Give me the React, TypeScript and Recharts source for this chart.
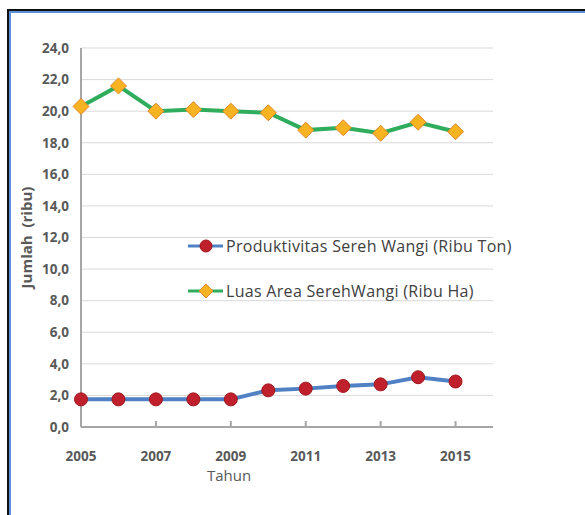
import React from 'react';
import { LineChart, Line, XAxis, YAxis, CartesianGrid, Label } from 'recharts';

const years = [2005, 2006, 2007, 2008, 2009, 2010, 2011, 2012, 2013, 2014, 2015];
const produktivitas = [1.75, 1.75, 1.75, 1.75, 1.75, 2.32, 2.43, 2.6, 2.7, 3.15, 2.88];
const luasArea = [20.3, 21.6, 20.0, 20.1, 20.0, 19.9, 18.8, 18.95, 18.6, 19.3, 18.7];
const xTicks = [2005, 2007, 2009, 2011, 2013, 2015];
const yTicks = [0, 2, 4, 6, 8, 10, 12, 14, 16, 18, 20, 22, 24];
const seriesNames = ['Produktivitas Sereh Wangi (Ribu Ton)', 'Luas Area SerehWangi (Ribu Ha)'];

const data = years.map((y, i) => ({ year: y, prod: produktivitas[i], luas: luasArea[i] }));

const FONT = '"Open Sans", "Liberation Sans", sans-serif';
const BLUE = '#4f81c4';
const GREEN = '#2fad5c';
const RED = '#c0202b';
const ORANGE = '#f8b323';

const Diamond = (props: any) => {
  const { cx, cy, index } = props;
  if (cx == null || cy == null) return <g key={'d' + index} />;
  const r = 8;
  return (
    <path
      key={'d' + index}
      d={`M${cx},${cy - r}L${cx + r},${cy}L${cx},${cy + r}L${cx - r},${cy}Z`}
      fill={ORANGE}
      stroke="#e2862a"
      strokeWidth={1}
    />
  );
};

const LegendBlock = () => (
  <div style={{ position: 'absolute', left: 186, top: 234, fontFamily: FONT, fontSize: 16, letterSpacing: 0.3, color: '#404040', whiteSpace: 'nowrap' }}>
    <div style={{ display: 'flex', alignItems: 'center', height: 24 }}>
      <svg width={40} height={20} style={{ display: 'block' }}>
        <line x1={2} y1={10} x2={37} y2={10} stroke={BLUE} strokeWidth={3} />
        <circle cx={20} cy={10} r={6} fill={RED} stroke="#a01820" strokeWidth={1} />
      </svg>
      <span>{seriesNames[0]}</span>
    </div>
    <div style={{ display: 'flex', alignItems: 'center', height: 24, marginTop: 21 }}>
      <svg width={40} height={20} style={{ display: 'block' }}>
        <line x1={2} y1={10} x2={37} y2={10} stroke={GREEN} strokeWidth={3} />
        <path d="M20,3L27,10L20,17L13,10Z" fill={ORANGE} stroke="#e2862a" strokeWidth={1} />
      </svg>
      <span>{seriesNames[1]}</span>
    </div>
  </div>
);

export default function App() {
  return (
    <div style={{ position: 'absolute', left: 0, top: 0, width: 585, height: 515, background: '#fff', overflow: 'hidden' }}>
      <div style={{ position: 'absolute', left: 7, top: 9, width: 700, height: 700, borderLeft: '2px solid #111', borderTop: '2px solid #111' }}>
        <div style={{ position: 'absolute', left: 0, top: 0, width: 700, height: 700, borderLeft: '2px solid #5b8fd8', borderTop: '2px solid #5b8fd8' }} />
      </div>
      <div style={{ position: 'absolute', left: 0, top: 0 }}>
        <LineChart width={585} height={515} data={data} margin={{ top: 48, right: 92, bottom: 58, left: 0 }}>
          <CartesianGrid horizontal vertical={false} stroke="#d9d9d9" strokeWidth={1} />
          <XAxis
            dataKey="year"
            type="number"
            domain={[2005, 2016]}
            ticks={xTicks}
            height={30}
            stroke="#a6a6a6"
            strokeWidth={2}
            tickSize={-6}
            tickMargin={30}
            tick={{ fill: '#595959', fontSize: 13.5, fontWeight: 700, fontFamily: FONT }}
          >
            <Label value="Tahun" position="insideBottom" offset={-24} dx={-58} style={{ fill: '#595959', fontSize: 15, fontFamily: FONT }} />
          </XAxis>
          <YAxis
            domain={[0, 24]}
            ticks={yTicks}
            width={81}
            stroke="#a6a6a6"
            strokeWidth={2}
            tickLine={false}
            tickSize={0}
            tickMargin={12}
            interval={0}
            tickFormatter={(v: number) => v.toFixed(1).replace('.', ',')}
            tick={{ fill: '#595959', fontSize: 13.5, fontWeight: 700, fontFamily: FONT }}
          >
            <Label value={'Jumlah\u00a0\u00a0(ribu)'} angle={-90} position="insideLeft" offset={27} style={{ fill: '#595959', fontSize: 15, fontWeight: 700, fontFamily: FONT, textAnchor: 'middle' }} />
          </YAxis>
          <Line
            type="linear"
            dataKey="prod"
            name={seriesNames[0]}
            stroke={BLUE}
            strokeWidth={4}
            dot={{ r: 6.5, fill: RED, stroke: '#a01820', strokeWidth: 1 }}
            isAnimationActive={false}
          />
          <Line
            type="linear"
            dataKey="luas"
            name={seriesNames[1]}
            stroke={GREEN}
            strokeWidth={4}
            dot={Diamond}
            isAnimationActive={false}
          />
        </LineChart>
      </div>
      <LegendBlock />
    </div>
  );
}
